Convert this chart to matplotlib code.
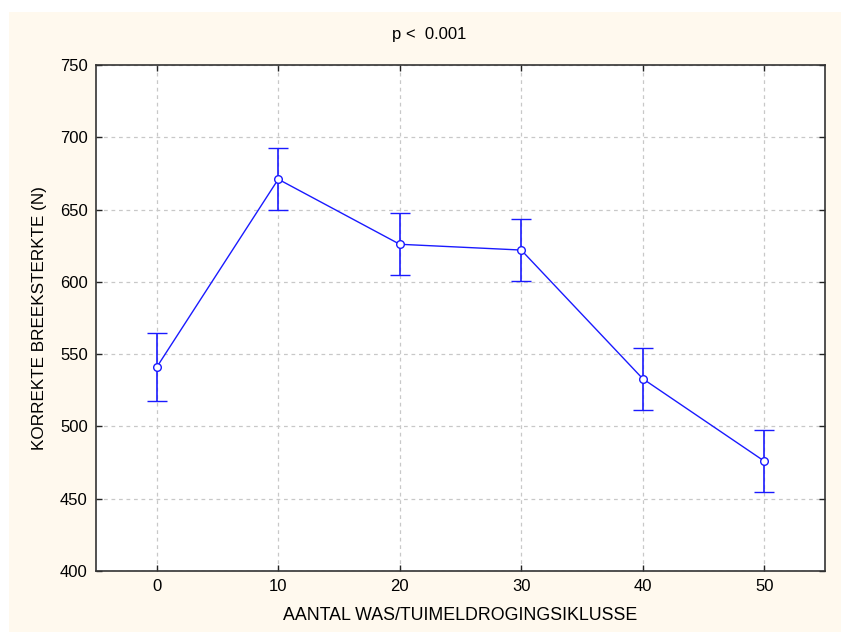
import matplotlib
matplotlib.use("Agg")
import matplotlib.pyplot as plt
from matplotlib.patches import Rectangle

plt.rcParams['font.family'] = ['Liberation Sans', 'DejaVu Sans']

cycles = [0, 10, 20, 30, 40, 50]
strength = [541, 671, 626, 622, 533, 476]
err = [23.5, 21.5, 21.5, 21.5, 21.5, 21.5]
yticks = [400, 450, 500, 550, 600, 650, 700, 750]
xticks = [0, 10, 20, 30, 40, 50]

W, H = 841, 632
fig = plt.figure(figsize=(W / 100, H / 100), dpi=100, facecolor='white')
bg = '#FFF9EE'
fig.patches.append(Rectangle((9 / W, 0), 1 - 9 / W, 1 - 12 / H,
                             transform=fig.transFigure, facecolor=bg,
                             edgecolor='none', zorder=-10))

ax = fig.add_axes([96 / W, 1 - 571 / H, (825 - 96) / W, (571 - 65) / H])
ax.set_facecolor('white')

blue = '#1a1aff'
ax.errorbar(cycles, strength, yerr=err, color=blue, lw=1.0, elinewidth=1.2,
            capsize=7, capthick=1.2, marker='o', markersize=5.5,
            markerfacecolor='white', markeredgecolor=blue, markeredgewidth=1.0,
            zorder=3)

ax.set_xlim(-5, 55)
ax.set_ylim(400, 750)
ax.set_xticks(xticks)
ax.set_yticks(yticks)
ax.grid(True, color='#c8c8c8', linestyle=(0, (3, 3)), linewidth=0.9)
ax.set_axisbelow(True)
ax.tick_params(direction='in', length=4, width=1, top=True, right=True,
               labelsize=12, colors='#222222', labelcolor='black', pad=6)
for s in ax.spines.values():
    s.set_color('#333333')
    s.set_linewidth(1.2)

ax.set_xlabel('AANTAL WAS/TUIMELDROGINGSIKLUSSE', fontsize=12.8, labelpad=9)
ax.set_ylabel('KORREKTE BREEKSTERKTE (N)', fontsize=12.3, labelpad=9)
fig.text(429 / W, 1 - 35 / H, 'p <  0.001', ha='center', va='center', fontsize=12)

fig.savefig('out.png', dpi=100, facecolor='white')
